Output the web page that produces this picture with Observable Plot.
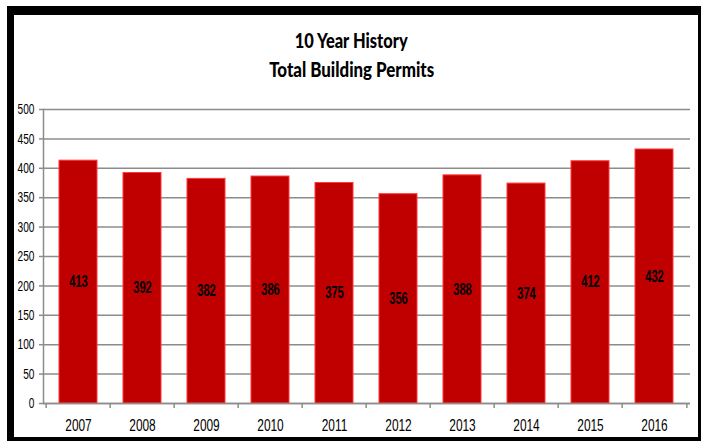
<!DOCTYPE html>
<html>
<head>
<meta charset="utf-8">
<script src="https://cdn.jsdelivr.net/npm/d3@7"></script>
<script src="https://cdn.jsdelivr.net/npm/@observablehq/plot@0.6"></script>
<style>
  html, body { margin: 0; padding: 0; background: #fff; }
  #wrap { position: relative; width: 703px; height: 441px; overflow: hidden; background: #fff; }
  #frame { position: absolute; left: 7px; top: 6px; width: 684px; height: 422px;
           border-style: solid; border-color: #000; border-width: 9px 3px 4px 7px; }
  .title { position: absolute; left: 0; width: 703px; text-align: center;
           font-family: Lato, "Liberation Sans", sans-serif; font-weight: 900;
           font-size: 21px; line-height: 21px; color: #000; white-space: nowrap; }
  .title span { display: inline-block; transform-origin: 50% 50%; }
  #t1 { top: 29px; }
  #t2 { top: 58px; }
  #chart { position: absolute; left: 0; top: 100px; }
</style>
</head>
<body>
<div id="wrap">
  <div id="frame"></div>
  <div class="title" id="t1"><span data-w="113">10 Year History</span></div>
  <div class="title" id="t2"><span data-w="165">Total Building Permits</span></div>
  <div id="chart"></div>
</div>
<script>
const years = ["2007","2008","2009","2010","2011","2012","2013","2014","2015","2016"];
const permits = [413, 392, 382, 386, 375, 356, 388, 374, 412, 432];
const yTicks = [0, 50, 100, 150, 200, 250, 300, 350, 400, 450, 500];

const data = years.map((year, i) => ({year, value: permits[i]}));

const W = 703, H = 335, mL = 43, mR = 13, mT = 9, mB = 32;
const step = (W - mL - mR) / years.length;
const font = "'Liberation Sans', Arial, sans-serif";
const grid = "#8c8c8c";

const chart = Plot.plot({
  width: W, height: H,
  marginLeft: mL, marginRight: mR, marginTop: mT, marginBottom: mB,
  style: {fontFamily: font, background: "transparent", color: "#000"},
  x: {domain: years, paddingInner: 0.4, paddingOuter: 0.2, label: null},
  y: {domain: [0, 500], label: null},
  marks: [
    Plot.gridY(yTicks, {stroke: grid, strokeOpacity: 1, strokeWidth: 1.5}),
    Plot.barY(data, {x: "year", y: "value", fill: "#C00000", stroke: "#ff3b3b", strokeWidth: 1}),
    Plot.frame({anchor: "left", stroke: grid, strokeWidth: 1.5}),
    Plot.ruleY([0], {stroke: grid, strokeWidth: 1.5}),
    Plot.ruleX(years, {x: d => d, dx: -step / 2, y1: 0, y2: 0, insetBottom: -5, stroke: grid, strokeWidth: 1.5}),
    Plot.ruleX([years[years.length - 1]], {x: d => d, dx: step / 2, y1: 0, y2: 0, insetBottom: -5, stroke: grid, strokeWidth: 1.5}),
    Plot.axisY(yTicks, {tickSize: 4, tickPadding: 5, fontSize: 14, stroke: grid, strokeWidth: 1.5, color: "#000"}),
    Plot.axisX({tickSize: 0, tickPadding: 15, fontSize: 17}),
    Plot.text(data, {x: "year", y: d => d.value / 2, text: d => String(d.value), fontWeight: "bold", fontSize: 16, fill: "#000"})
  ]
});
document.getElementById("chart").appendChild(chart);

// enforce label sizes and a narrow (horizontally condensed) look
const sx = 0.7;
const yStr = yTicks.map(String);
chart.querySelectorAll("text").forEach(t => {
  const s = t.textContent;
  if (years.includes(s)) t.style.fontSize = "17px";
  else if (yStr.includes(s)) t.style.fontSize = "14.5px";
  else { t.style.fontSize = "16px"; t.style.fontWeight = "bold"; }
  const x = +(t.getAttribute("x") || 0);
  const tr = t.getAttribute("transform") || "";
  t.setAttribute("transform", `${tr} translate(${x},0) scale(${sx},1) translate(${-x},0)`);
});

// fit title lines to their widths
document.querySelectorAll(".title span").forEach(s => {
  const w = s.getBoundingClientRect().width;
  s.style.transform = `scaleX(${(+s.dataset.w) / w})`;
});
</script>
</body>
</html>
